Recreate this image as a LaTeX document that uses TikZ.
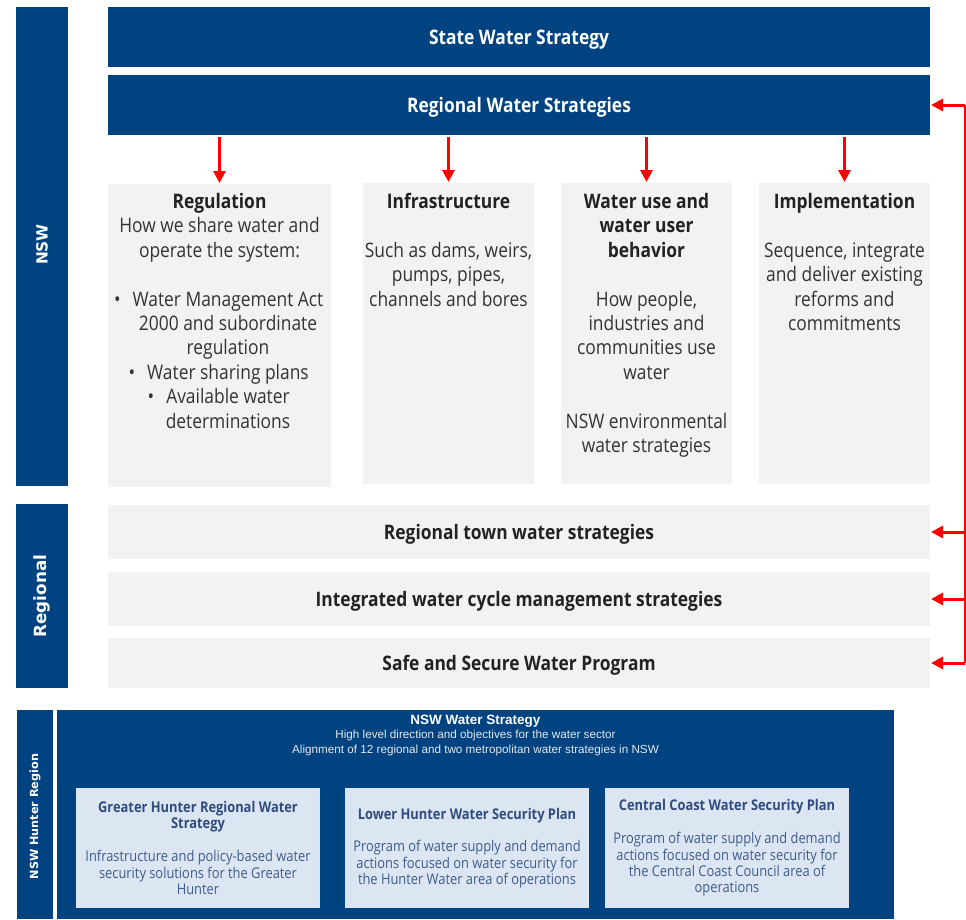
\documentclass[tikz,border=0pt]{standalone}
\usepackage{fontspec}
\setmainfont{Open Sans}[FakeStretch=0.87]
\newfontfamily\arialfont{Liberation Sans}
\newfontfamily\labelfont{DejaVu Sans}
\usetikzlibrary{arrows.meta}
\definecolor{navy}{HTML}{004380}
\definecolor{panel}{HTML}{F1F2F4}
\definecolor{paleblue}{HTML}{DCE6F2}
\definecolor{hunterhead}{HTML}{2F4C7E}
\definecolor{hunterbody}{HTML}{3E5C8C}
\definecolor{headink}{HTML}{222222}
\definecolor{bodyink}{HTML}{333333}
\definecolor{subtext}{HTML}{E4E8EE}
\begin{document}
\begin{tikzpicture}[x=1pt,y=-1pt,
  every node/.style={inner sep=0pt,outer sep=0pt},
  navyband/.style={fill=navy,anchor=north west},
  greybox/.style={fill=panel,anchor=north west},
  palebox/.style={fill=paleblue,anchor=north west},
  bandtext/.style={text=white,font=\fontsize{20}{24.4}\selectfont\bfseries,text height=14pt,text depth=0pt},
  rowtext/.style={text=headink,font=\fontsize{20}{24.4}\selectfont\bfseries,text height=14pt,text depth=0pt},
  coltext/.style={anchor=north,align=center,text=bodyink,font=\fontsize{20}{24.4}\selectfont},
  sidelabel/.style={rotate=90,text=white},
  hunttext/.style={align=center,text=hunterbody,font=\fontsize{14.8}{16.4}\selectfont},
  redarrow/.style={draw=red,line width=3.5pt,-{Triangle[length=12pt,width=12pt]}},
  redrail/.style={draw=red,line width=1.6pt},
]
\useasboundingbox (0,0) rectangle (966,919);

% ---------- NSW level ----------
\node[navyband,minimum width=52pt,minimum height=479pt] (nswbar) at (16,7) {};
\node[sidelabel,font=\labelfont\bfseries\fontsize{15.4}{18}\selectfont] (nswlabel) at (42,244.5) {NSW};

\node[navyband,bandtext,minimum width=822pt,minimum height=60pt] (sws) at (108,7) {State Water Strategy};
\node[navyband,bandtext,minimum width=822pt,minimum height=60pt] (rws) at (108,75) {Regional Water Strategies};

\node[greybox,minimum width=223pt,minimum height=303pt] (regul) at (108,184) {};
\node[greybox,minimum width=171pt,minimum height=301pt] (infra) at (363,183) {};
\node[greybox,minimum width=171pt,minimum height=301pt] (wuse) at (561,183) {};
\node[greybox,minimum width=171pt,minimum height=301pt] (impl) at (759,183) {};

\node[coltext] (regultext) at (219.5,192.5) {%
\rule{0pt}{16pt}{\bfseries\color{headink}Regulation}\\
How we share water and\\
operate the system:\\[24.4pt]
\rule{17pt}{0pt}\llap{\textbullet\hspace{12pt}}Water Management Act\\
\rule{17pt}{0pt}2000 and subordinate\\
\rule{17pt}{0pt}regulation\\
\rule{17pt}{0pt}\llap{\textbullet\hspace{12pt}}Water sharing plans\\
\rule{17pt}{0pt}\llap{\textbullet\hspace{12pt}}Available water\\
\rule{17pt}{0pt}determinations};

\node[coltext] (infratext) at (448.5,192.5) {%
\rule{0pt}{16pt}{\bfseries\color{headink}Infrastructure}\\[24.4pt]
Such as dams, weirs,\\
pumps, pipes,\\
channels and bores};

\node[coltext] (wusetext) at (646.5,192.5) {%
\rule{0pt}{16pt}{\bfseries\color{headink}Water use and}\\
{\bfseries\color{headink}water user}\\
{\bfseries\color{headink}behavior}\\[24.4pt]
How people,\\
industries and\\
communities use\\
water\\[24.4pt]
NSW environmental\\
water strategies};

\node[coltext] (impltext) at (844.5,192.5) {%
\rule{0pt}{16pt}{\bfseries\color{headink}Implementation}\\[24.4pt]
Sequence, integrate\\
and deliver existing\\
reforms and\\
commitments};

\foreach \col in {regul,infra,wuse,impl}
  \draw[redarrow,shorten <=2pt,shorten >=1pt] (\col.north |- rws.south) -- (\col.north);

% ---------- Regional level ----------
\node[navyband,minimum width=52pt,minimum height=184pt] (regbar) at (16,504) {};
\node[sidelabel,font=\labelfont\bfseries\fontsize{16.8}{19}\selectfont] (reglabel) at (42,596) {Regional};

\node[greybox,rowtext,minimum width=822pt,minimum height=54pt] (town) at (108,505) {Regional town water strategies};
\node[greybox,rowtext,minimum width=822pt,minimum height=54pt] (iwcm) at (108,572) {Integrated water cycle management strategies};
\node[greybox,rowtext,minimum width=822pt,minimum height=50pt] (safe) at (108,638) {Safe and Secure Water Program};

% ---------- red feedback rail ----------
\coordinate (railtop) at (965,105);
\coordinate (railbot) at (965,663);
\draw[redrail] (railtop) -- (railbot);
\draw[redarrow,line width=3pt] (rws.east -| railtop) -- ([xshift=1pt]rws.east);
\draw[redarrow,line width=3pt] (town.east -| railtop) -- ([xshift=1pt]town.east);
\draw[redarrow,line width=3pt] (iwcm.east -| railtop) -- ([xshift=1pt]iwcm.east);
\draw[redarrow,line width=3pt] (safe.east -| railtop) -- ([xshift=1pt]safe.east);

% ---------- NSW Hunter Region ----------
\node[navyband,minimum width=36pt,minimum height=209pt] (hunterbar) at (17,710) {};
\node[sidelabel,font=\labelfont\bfseries\fontsize{11.2}{13}\selectfont] (hunterlabel) at (35,816.5) {NSW Hunter Region};

\node[navyband,minimum width=837pt,minimum height=209pt] (nswwsbox) at (57,710) {};
\node[anchor=north,align=center,text=subtext,font=\arialfont\fontsize{11.7}{14.3}\selectfont] (nswwstext) at (475.5,713.5) {%
\rule{0pt}{11pt}{\bfseries\color{white}\fontsize{13.5}{14.3}\selectfont NSW Water Strategy}\\
High level direction and objectives for the water sector\\
Alignment of 12 regional and two metropolitan water strategies in NSW};

\node[palebox,hunttext,minimum width=244pt,minimum height=120pt] (ghrws) at (76,788) {%
{\bfseries\color{hunterhead}Greater Hunter Regional Water}\\
{\bfseries\color{hunterhead}Strategy}\\[16.4pt]
Infrastructure and policy-based water\\
security solutions for the Greater\\
Hunter};
\node[palebox,hunttext,minimum width=244pt,minimum height=120pt] (lhwsp) at (345,788) {%
{\bfseries\color{hunterhead}Lower Hunter Water Security Plan}\\[16.4pt]
Program of water supply and demand\\
actions focused on water security for\\
the Hunter Water area of operations};
\node[palebox,hunttext,minimum width=244pt,minimum height=120pt] (ccwsp) at (605,788) {%
{\bfseries\color{hunterhead}Central Coast Water Security Plan}\\[16.4pt]
Program of water supply and demand\\
actions focused on water security for\\
the Central Coast Council area of\\
operations};
\end{tikzpicture}
\end{document}
